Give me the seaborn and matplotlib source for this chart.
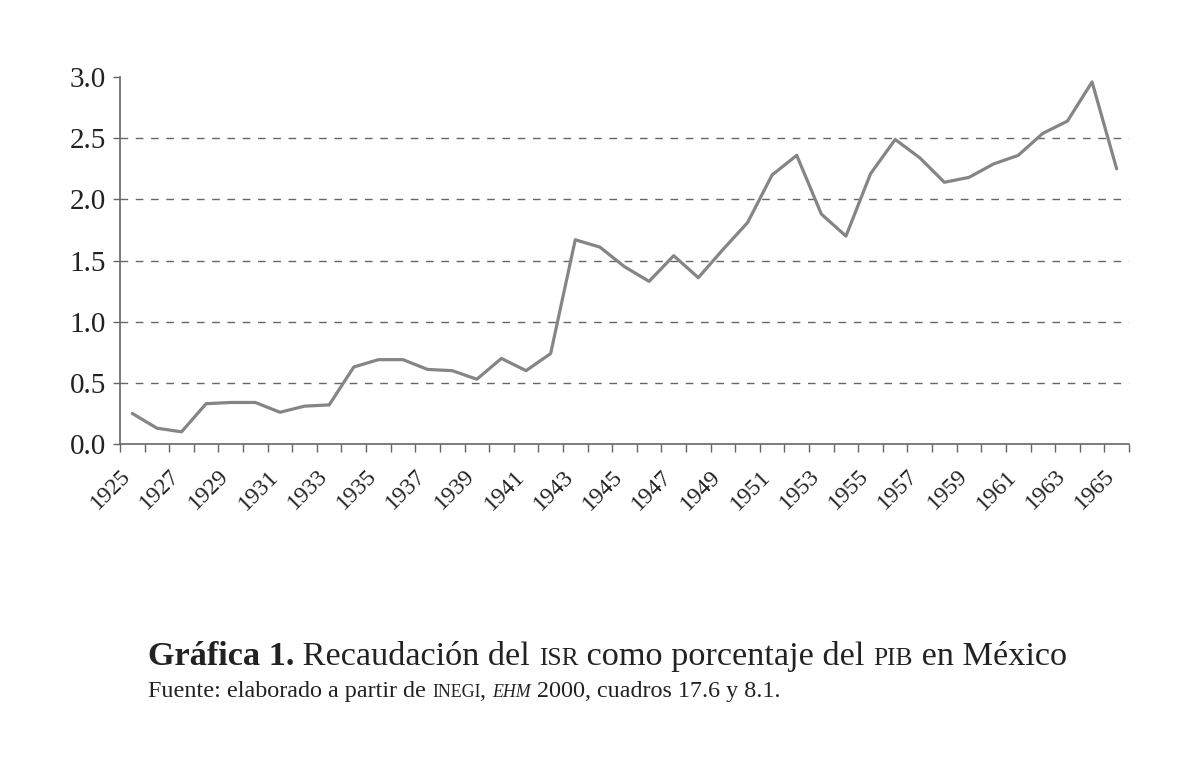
import numpy as np
import pandas as pd
import matplotlib
matplotlib.use('Agg')
import matplotlib.pyplot as plt
import matplotlib.transforms as mtransforms
import seaborn as sns

# values (% of GDP)
years = list(range(1925, 1966))
isr_pct = [0.25, 0.13, 0.10, 0.33, 0.34, 0.34, 0.26, 0.31, 0.32, 0.63,
           0.69, 0.69, 0.61, 0.60, 0.53, 0.70, 0.60, 0.74, 1.67, 1.61,
           1.45, 1.33, 1.54, 1.36, 1.59, 1.81, 2.20, 2.36, 1.88, 1.70,
           2.21, 2.49, 2.34, 2.14, 2.18, 2.29, 2.36, 2.54, 2.64, 2.96,
           2.25]
y_ticks = [0.0, 0.5, 1.0, 1.5, 2.0, 2.5, 3.0]
x_labels = years[::2]

df = pd.DataFrame({'year': years, 'isr': isr_pct})

sns.set_style('white')
plt.rcParams['font.family'] = ['Liberation Serif', 'DejaVu Serif']

fig = plt.figure(figsize=(12, 7.63), dpi=100)
ax = fig.add_axes([0.1, 0.418, 0.8408, 0.481])

sns.lineplot(data=df, x='year', y='isr', ax=ax, color='#858585', linewidth=2.3)

# dashed grid, skipping bottom and top
for v in y_ticks[1:-1]:
    ax.axhline(v, color='#666666', linewidth=1, linestyle=(0, (5.5, 5.5)), zorder=0)

ax.set_xlim(years[0] - 0.5, years[-1] + 0.5)
ax.set_ylim(y_ticks[0], y_ticks[-1])
ax.set_yticks(y_ticks)
ax.set_yticklabels([f'{v:.1f}' for v in y_ticks])
ax.set_xticks(x_labels)
ax.set_xticklabels([str(y) for y in x_labels], rotation=45, ha='right', va='center',
                   rotation_mode='anchor')
ax.set_xticks([y - 0.5 for y in years] + [years[-1] + 0.5], minor=True)
ax.tick_params(axis='x', which='major', length=0, pad=21, labelsize=17, labelcolor='#222222')
ax.tick_params(axis='x', which='minor', length=6, width=1, color='#666666', direction='out', bottom=True)
ax.tick_params(axis='y', length=5, width=1, color='#666666', direction='out', left=True,
               labelsize=21, labelcolor='#222222', pad=5)
ax.set_xlabel('')
ax.set_ylabel('')

# nudge the year labels a little to the left
shift = mtransforms.ScaledTranslation(-5 / 100, 0, fig.dpi_scale_trans)
for lab in ax.get_xticklabels():
    lab.set_transform(lab.get_transform() + shift)

sns.despine(ax=ax)
for s in ['left', 'bottom']:
    ax.spines[s].set_color('#666666')
    ax.spines[s].set_linewidth(1.2)


def draw_pieces(pieces, x_px, y_px):
    # lay text pieces side by side on one baseline (figure pixels)
    r = fig.canvas.get_renderer()
    x = x_px
    H = fig.bbox.height
    for txt, size, kw in pieces:
        t = fig.text(x / fig.bbox.width, 1 - y_px / H, txt, fontsize=size,
                     va='baseline', ha='left', color='#222222', **kw)
        x = t.get_window_extent(renderer=r).x1


big = 24.7
sc = big * 0.74
draw_pieces([
    ('Gráfica 1.', big, {'fontweight': 'bold'}),
    (' Recaudación del ', big, {}),
    ('ISR', sc, {}),
    (' como porcentaje del ', big, {}),
    ('PIB', sc, {}),
    (' en México', big, {}),
], 148, 665)

small = 17.4
sc2 = small * 0.74
draw_pieces([
    ('Fuente: elaborado a partir de ', small, {}),
    ('INEGI', sc2, {}),
    (', ', small, {}),
    ('EHM', sc2, {'fontstyle': 'italic'}),
    (' 2000, cuadros 17.6 y 8.1.', small, {}),
], 148, 697)

fig.savefig('out.png', dpi=100)
